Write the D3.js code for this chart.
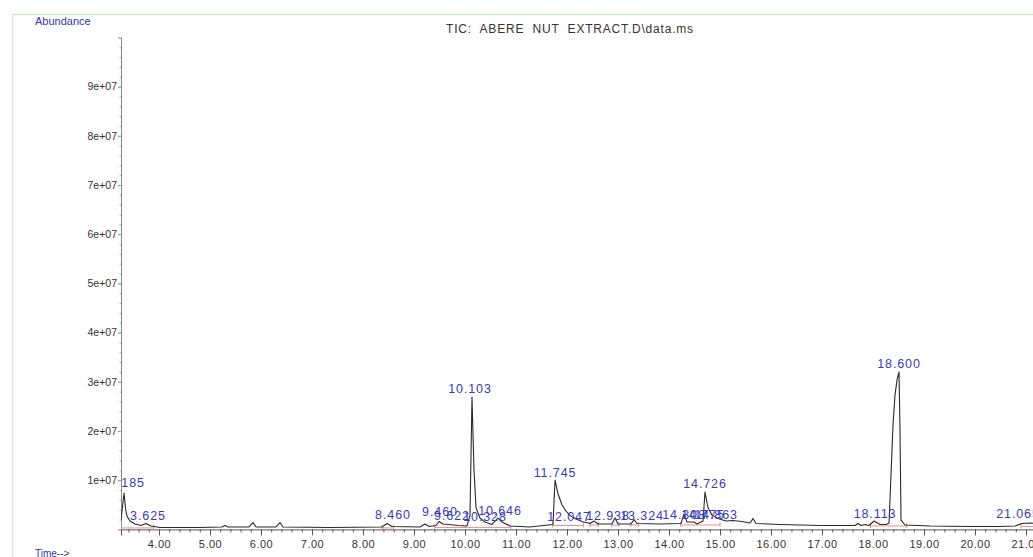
<!DOCTYPE html>
<html>
<head>
<meta charset="utf-8">
<script src="https://cdn.jsdelivr.net/npm/d3@7"></script>
<style>
  html, body { margin: 0; padding: 0; background: #fff; }
  svg { display: block; font-family: "Liberation Sans", Arial, sans-serif; }
</style>
</head>
<body>
<svg id="chart" width="1033" height="557"></svg>
<script>
// TIC trace (minutes, abundance counts)
const traceTime = [
  3.255, 3.314, 3.343, 3.373, 3.431, 3.529, 3.647, 3.745, 3.843, 4.02,
  4.80, 5.235, 5.294, 5.353, 5.765, 5.843, 5.902, 6.294, 6.373, 6.431,
  7.353, 8.373, 8.471, 8.569, 9.118, 9.216, 9.294, 9.431, 9.49, 9.569,
  9.686, 9.863, 10.039, 10.098, 10.137, 10.176, 10.216, 10.294, 10.392, 10.529,
  10.647, 10.725, 10.882, 11.275, 11.627, 11.725, 11.765, 11.824, 11.902, 11.98,
  12.078, 12.176, 12.294, 12.451, 12.529, 12.608, 12.882, 12.941, 13.0, 13.255,
  13.314, 13.373, 13.824, 14.235, 14.294, 14.353, 14.49, 14.549, 14.667, 14.706,
  14.765, 14.843, 14.961, 15.118, 15.255, 15.431, 15.588, 15.647, 15.706, 16.176,
  16.961, 17.647, 17.706, 17.765, 17.843, 17.922, 18.02, 18.137, 18.255, 18.314,
  18.353, 18.392, 18.431, 18.471, 18.51, 18.529, 18.549, 18.627, 19.118, 19.902,
  20.49, 20.784, 20.922, 21.078, 21.275
];
const traceAbund = [
  1.9e6, 7.4e6, 4.3e6, 2.7e6, 1.7e6, 1.1e6, 0.8e6, 1.2e6, 0.7e6, 0.4e6,
  0.4e6, 0.5e6, 0.8e6, 0.5e6, 0.5e6, 1.4e6, 0.5e6, 0.5e6, 1.4e6, 0.5e6,
  0.4e6, 0.5e6, 1.2e6, 0.6e6, 0.5e6, 1.1e6, 0.6e6, 0.8e6, 1.6e6, 1.1e6,
  1.0e6, 0.8e6, 0.7e6, 2.9e6, 26.9e6, 12.1e6, 4.4e6, 2.3e6, 1.5e6, 1.0e6,
  2.3e6, 1.5e6, 0.7e6, 0.5e6, 0.9e6, 1.0e6, 10.0e6, 7.2e6, 5.0e6, 3.7e6,
  2.7e6, 2.1e6, 1.6e6, 1.2e6, 1.7e6, 1.1e6, 1.1e6, 2.3e6, 1.1e6, 1.1e6,
  2.0e6, 1.2e6, 1.1e6, 1.2e6, 3.1e6, 1.5e6, 1.5e6, 1.1e6, 1.7e6, 7.6e6,
  4.4e6, 2.9e6, 2.2e6, 1.7e6, 1.8e6, 1.6e6, 1.3e6, 2.2e6, 1.2e6, 1.0e6,
  0.8e6, 0.8e6, 1.2e6, 0.8e6, 1.0e6, 0.8e6, 1.7e6, 1.0e6, 1.0e6, 1.3e6,
  11.1e6, 21.2e6, 27.3e6, 30.4e6, 32.0e6, 20.2e6, 1.9e6, 0.9e6, 0.7e6, 0.6e6,
  0.6e6, 0.7e6, 1.2e6, 1.3e6, 1.1e6
];

// peak annotations: text and anchor position (centre, baseline) in data units
const peakText = [
  '3.185', '3.625', '8.460', '9.460', '9.622', '10.103', '10.328', '10.646',
  '11.745', '12.047', '12.938', '13.324', '14.308', '14.775', '14.863', '14.726',
  '18.113', '18.600', '21.065'
];
const peakLabelTime = [
  3.373, 3.784, 8.588, 9.51, 9.745, 10.098, 10.392, 10.686,
  11.765, 12.039, 12.804, 13.471, 14.294, 14.667, 14.922, 14.706,
  18.039, 18.51, 20.843
];
const peakLabelAbund = [
  8.6e6, 1.9e6, 2.1e6, 2.7e6, 1.9e6, 27.7e6, 1.7e6, 2.9e6,
  10.6e6, 1.7e6, 1.9e6, 1.9e6, 2.1e6, 2.1e6, 2.1e6, 8.4e6,
  2.3e6, 32.8e6, 2.3e6
];

// integration baselines (start/end time, level)
const integStart = [3.26, 8.37, 9.40, 11.72, 12.45, 12.88, 13.25, 14.23, 17.95, 20.90];
const integEnd   = [3.90, 8.60, 10.90, 12.32, 12.62, 13.02, 13.40, 15.00, 18.66, 21.30];
const integLevel = [0.3e6, 0.3e6, 0.4e6, 0.8e6, 0.9e6, 0.9e6, 0.9e6, 0.9e6, 0.7e6, 0.6e6];

const xTicks = [4, 5, 6, 7, 8, 9, 10, 11, 12, 13, 14, 15, 16, 17, 18, 19, 20, 21];
const yTicks = [1e7, 2e7, 3e7, 4e7, 5e7, 6e7, 7e7, 8e7, 9e7];

const svg = d3.select('#chart');
const W = 1033, H = 557;
const plotLeft = 121, plotBottom = 529.4, plotTop = 37.4;

const x = d3.scaleLinear().domain([3.255, 21.137]).range([plotLeft, W]);
const y = d3.scaleLinear().domain([0, 1e8]).range([plotBottom, plotTop]);

// frame lines (light green)
svg.append('line').attr('x1', 12).attr('x2', W).attr('y1', 14.5).attr('y2', 14.5)
  .attr('stroke', '#c4ebc4').attr('stroke-width', 1.5);
svg.append('line').attr('x1', 12.5).attr('x2', 12.5).attr('y1', 14).attr('y2', H)
  .attr('stroke', '#d4f0d4').attr('stroke-width', 1.5);

svg.append('defs').append('clipPath').attr('id', 'plot')
  .append('rect').attr('x', plotLeft).attr('y', 0).attr('width', W - plotLeft).attr('height', H);

// labels
svg.append('text').attr('x', 35).attr('y', 25).attr('font-size', 11).attr('fill', '#3535a8')
  .text('Abundance');
svg.append('text').attr('x', 570).attr('y', 33).attr('font-size', 12).attr('fill', '#333')
  .attr('letter-spacing', 0.8)
  .attr('text-anchor', 'middle').style('white-space', 'pre')
  .text('TIC:  ABERE  NUT  EXTRACT.D\\data.ms');
svg.append('text').attr('x', 35).attr('y', 557).attr('font-size', 10).attr('fill', '#3535a8')
  .text('Time-->');

// y axis
const yAxis = d3.axisLeft(y).tickValues(yTicks).tickSize(3).tickPadding(1)
  .tickFormat(d => d3.format('.0e')(d).replace('e+', 'e+0'));
const gy = svg.append('g').attr('transform', `translate(${plotLeft},0)`).call(yAxis);
gy.select('.domain').attr('stroke', '#888');
gy.selectAll('.tick line').attr('stroke', '#888');
gy.selectAll('.tick text').attr('font-size', 10.5).attr('fill', '#333')
  .attr('font-family', '"Liberation Sans", Arial, sans-serif');
const yMinor = d3.axisLeft(y).tickValues(d3.range(0, 1e8, 2e6)).tickSize(1.5).tickFormat('');
const gym = svg.append('g').attr('transform', `translate(${plotLeft},0)`).call(yMinor);
gym.select('.domain').remove();
gym.selectAll('.tick line').attr('stroke', '#aaa');

// x axis
const xAxis = d3.axisBottom(x).tickValues(xTicks).tickSize(6).tickPadding(5)
  .tickFormat(d3.format('.2f'));
const gx = svg.append('g').attr('transform', `translate(0,${plotBottom})`).call(xAxis);
gx.select('.domain').attr('stroke', '#555');
gx.selectAll('.tick line').attr('stroke', '#555');
gx.selectAll('.tick text').attr('font-size', 11).attr('fill', '#333')
  .attr('letter-spacing', 0.5)
  .attr('font-family', '"Liberation Sans", Arial, sans-serif');
const xMinor = d3.axisBottom(x).tickValues(d3.range(3.4, 21.2, 0.2)).tickSize(3).tickFormat('');
const gxm = svg.append('g').attr('transform', `translate(0,${plotBottom})`).call(xMinor);
gxm.select('.domain').remove();
gxm.selectAll('.tick line').attr('stroke', '#555');

const plot = svg.append('g').attr('clip-path', 'url(#plot)');

// integration baselines
plot.selectAll('line.integ').data(integStart).join('line').attr('class', 'integ')
  .attr('x1', d => x(d)).attr('x2', (d, i) => x(integEnd[i]))
  .attr('y1', (d, i) => y(integLevel[i])).attr('y2', (d, i) => y(integLevel[i]))
  .attr('stroke', '#e89090').attr('stroke-width', 1);
plot.selectAll('line.integTick').data(integStart.concat(integEnd)).join('line').attr('class', 'integTick')
  .attr('x1', d => x(d)).attr('x2', d => x(d))
  .attr('y1', (d, i) => y(integLevel[i % integLevel.length]) - 3)
  .attr('y2', (d, i) => y(integLevel[i % integLevel.length]) + 2)
  .attr('stroke', '#e89090').attr('stroke-width', 1);

// trace
const line = d3.line().x((d, i) => x(traceTime[i])).y(d => y(d));
plot.append('path').datum(traceAbund).attr('d', line)
  .attr('fill', 'none').attr('stroke', '#2a2a2a').attr('stroke-width', 1.1)
  .attr('stroke-linejoin', 'round');

// peak labels
plot.selectAll('text.peak').data(peakText).join('text').attr('class', 'peak')
  .attr('x', (d, i) => x(peakLabelTime[i])).attr('y', (d, i) => y(peakLabelAbund[i]))
  .attr('text-anchor', 'middle').attr('font-size', 12.5).attr('letter-spacing', 0.9)
  .attr('fill', '#3a3ab8')
  .text(d => d);
</script>
</body>
</html>
